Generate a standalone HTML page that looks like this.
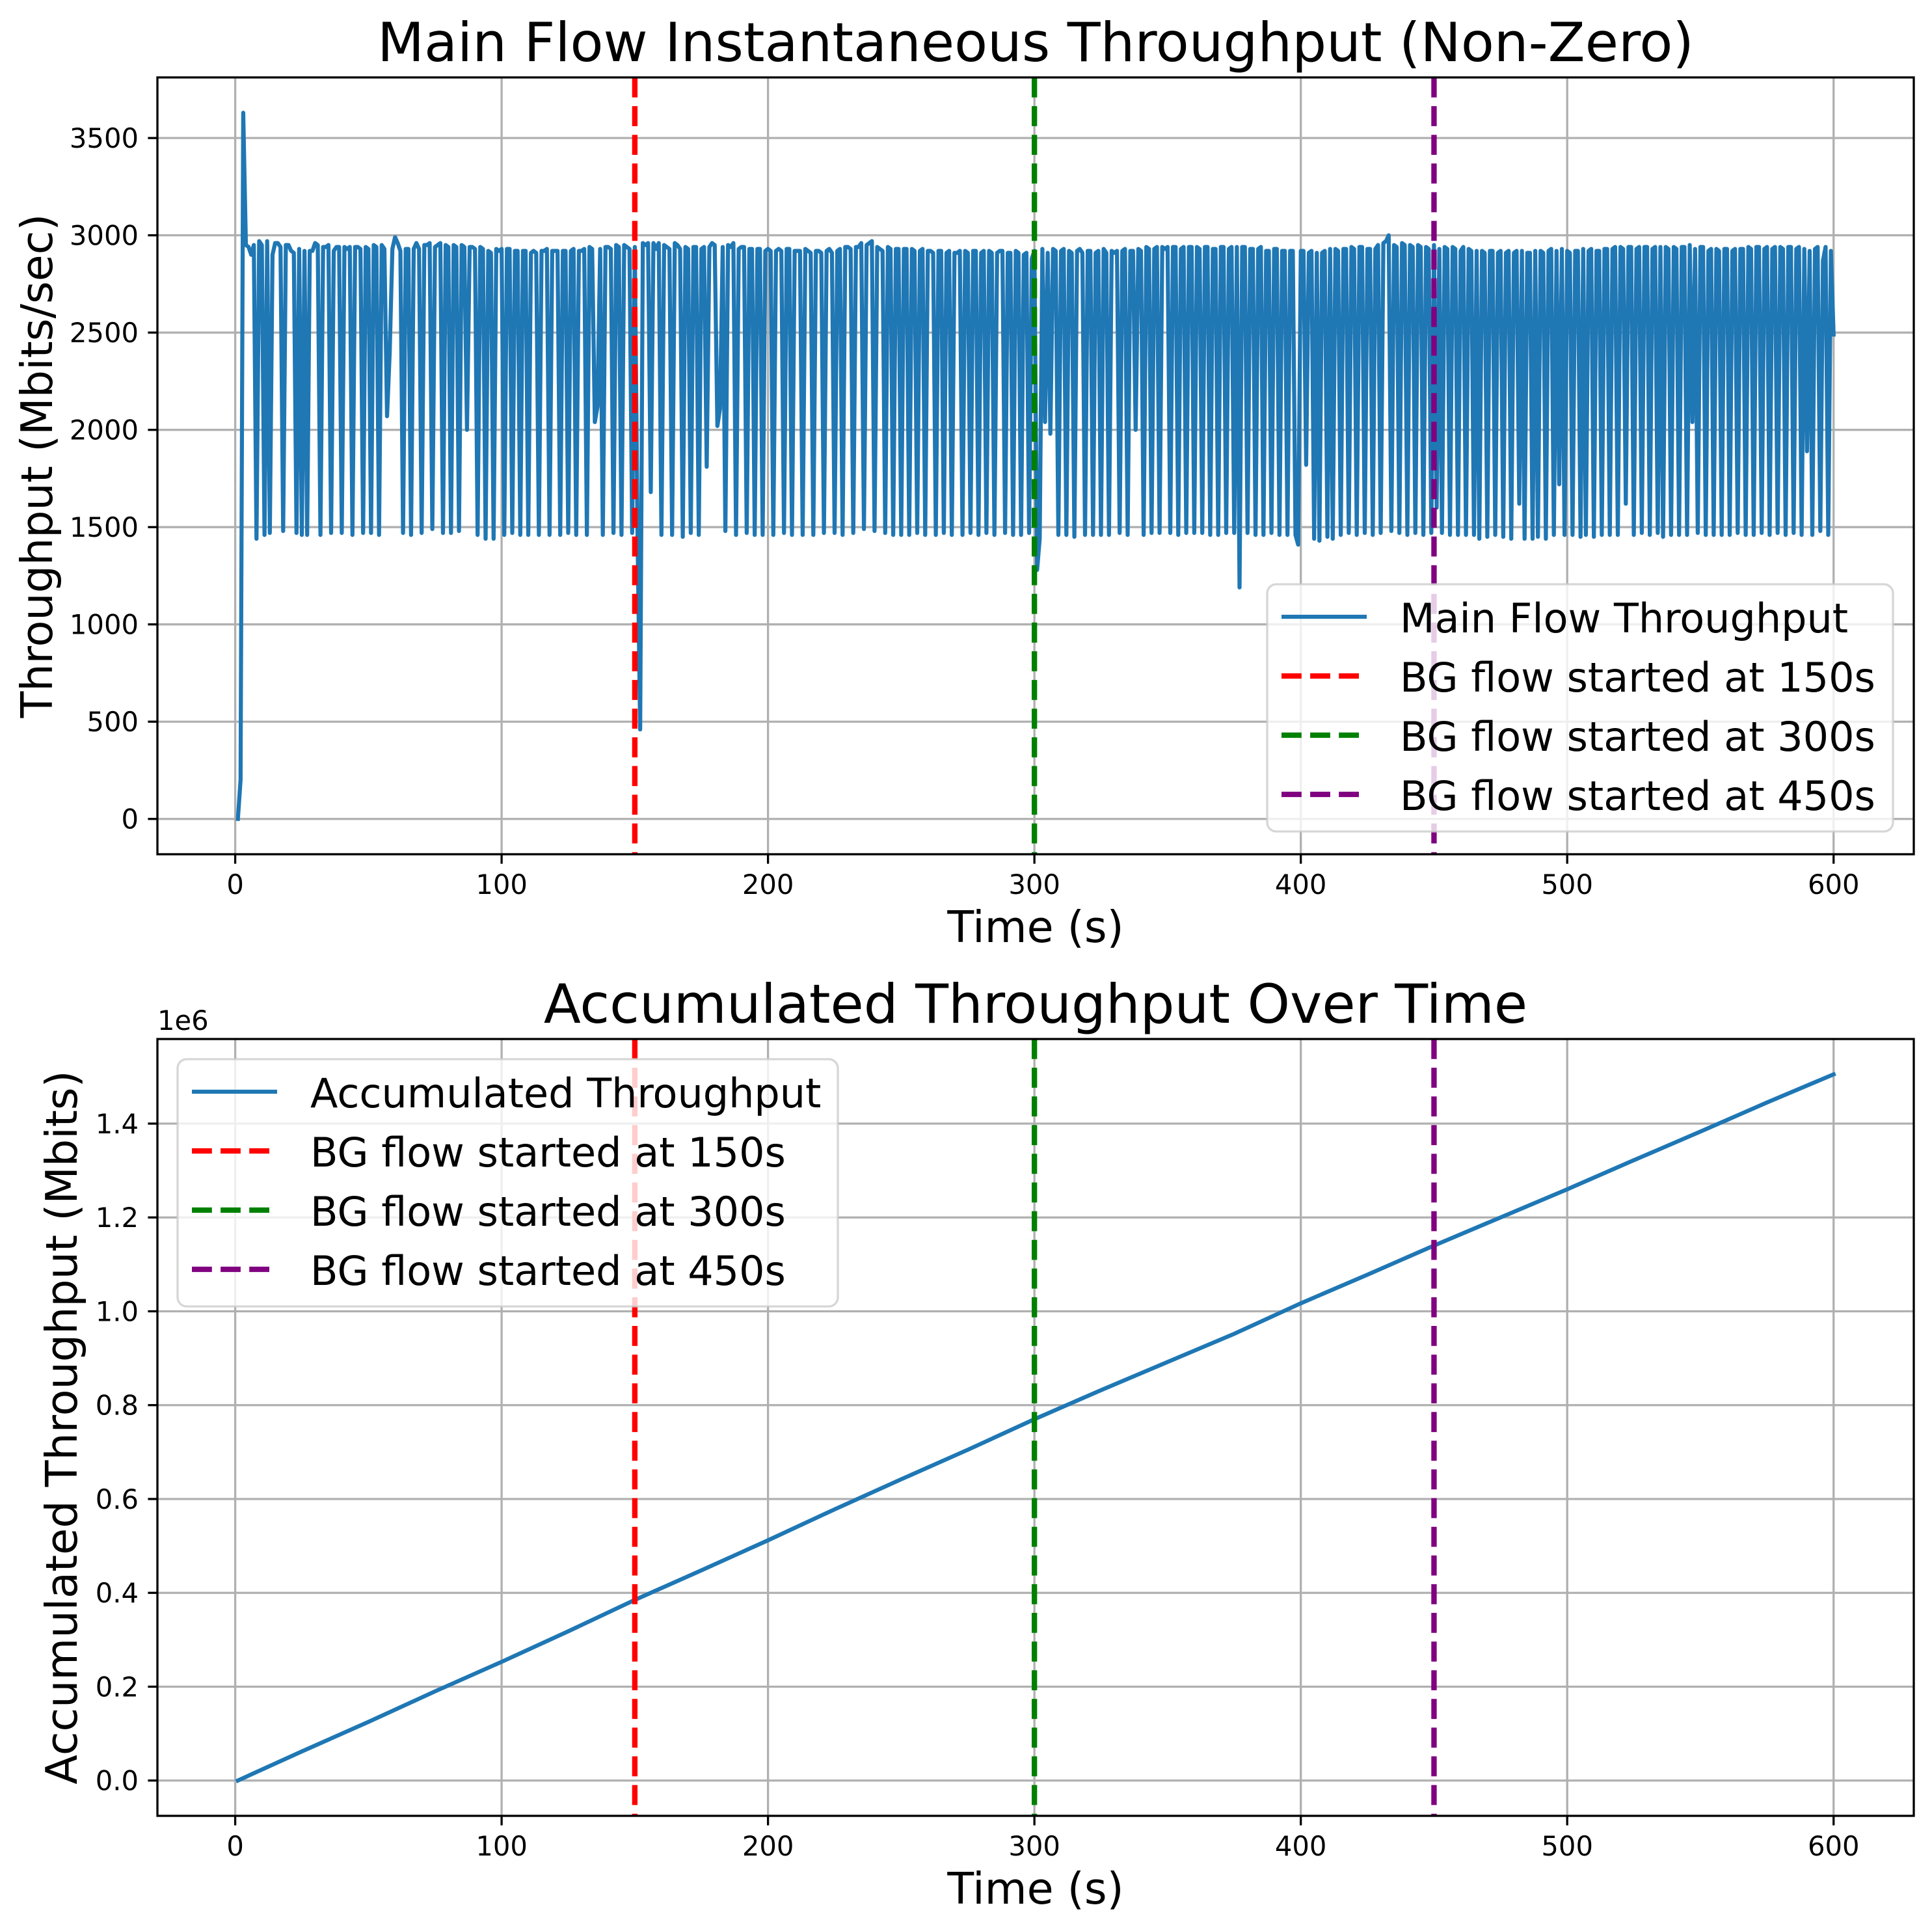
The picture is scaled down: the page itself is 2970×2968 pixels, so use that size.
<!DOCTYPE html>
<html><head><meta charset="utf-8"><style>
html,body{margin:0;padding:0;background:#fff;}
svg{display:block;font-family:"DejaVu Sans","Liberation Sans",sans-serif;}
</style></head><body>
<svg id="fig" width="2970" height="2968" viewBox="0 0 2970 2968" xmlns="http://www.w3.org/2000/svg">
<rect x="0" y="0" width="2970" height="2968" fill="#fff"/>
<g id="top"></g>
<g id="bot"></g>
</svg>
<script>
const thrValues = [
0,200,3630,2950,2940,2900,2950,1440,2970,2950,1460,2970,1470,2900,2960,2960,2940,1480,2950,2950,
2920,2910,1470,2930,1460,2920,1460,2920,2920,2960,2950,1460,2940,2940,2950,1470,2920,2940,2940,1470,
2940,2930,2940,1460,2940,2940,2930,1470,2940,2930,1470,2950,2940,1460,2950,2930,2070,2400,2930,2990,
2960,2920,1470,2930,2930,1460,2930,2960,2930,1470,2950,2950,2960,1490,2940,2950,2960,1470,2950,2940,
1470,2950,2940,1480,2950,2940,2000,2940,2940,2930,1460,2940,2930,1440,2920,2910,1440,2930,2920,2930,
1460,2930,2930,1470,2920,2920,1460,2920,2920,1460,2910,2920,2910,1460,2920,2920,2930,1460,2920,2920,
2920,1460,2920,2920,1470,2920,2930,1460,2920,2920,2930,1460,2940,2930,2040,2120,2930,1460,2940,2940,
2930,1470,2950,2940,1460,2950,2940,2930,1470,2940,1480,460,2960,2950,2960,1680,2960,2930,2960,1460,
2950,2940,2930,1460,2960,2950,2930,1450,2940,2930,1470,2940,2940,1460,2930,2940,1810,2940,2960,2950,
2020,2110,2940,1480,2950,2940,2960,1460,2930,2940,2940,1470,2930,2930,1460,2930,2930,1460,2920,2930,
2920,1460,2920,2930,2920,1470,2930,2930,1460,2920,2920,2920,1460,2930,2920,2910,1460,2920,2920,2910,
1470,2920,2930,2910,1470,2920,2930,1460,2940,2940,2930,1470,2940,2940,2960,1490,2950,2960,2970,1480,
2940,2930,2920,1470,2940,2930,1460,2930,2930,1460,2930,2930,1460,2930,2920,1470,2920,2930,1460,2920,
2920,2910,1460,2920,2920,1470,2910,2920,1460,2910,2910,2920,1460,2920,2910,1470,2920,2920,1460,2910,
2920,1470,2920,2910,1460,2910,2920,2920,1470,2910,2910,1460,2920,2910,1460,2900,2910,1470,2880,2920,
1280,1440,2930,2040,2910,1980,2930,2920,1460,2920,2930,1460,2920,2910,1450,2920,2930,2910,1460,2920,
2920,1460,2910,2920,1460,2930,2910,1460,2920,2910,2920,1470,2920,2930,1460,2920,2920,2000,2930,2920,
1460,2940,2930,1470,2930,2940,1470,2940,2930,2940,1470,2940,2940,1460,2930,2940,1470,2940,2940,1470,
2940,2930,1470,2940,2940,1460,2930,2930,1460,2940,2940,1470,2930,2940,1470,2940,1190,2940,2940,1470,
2930,2930,1460,2930,2940,1460,2920,2920,1470,2930,2930,1460,2920,2920,1460,2920,2920,1460,1410,2920,
2920,1820,2910,2920,1440,2910,1430,2910,2920,1450,2930,1440,2930,2920,1460,2930,2930,1470,2940,2930,
1460,2940,2940,1470,2930,2930,1460,2930,2950,1470,2960,2970,3000,1480,2950,2940,1470,2960,2950,1460,
2950,2940,1470,2950,2940,1460,2940,2930,1470,2950,1600,2930,1470,2940,2930,1460,2940,2930,1460,2920,
2940,1460,2930,2920,1460,2920,1440,2920,2910,1450,2920,2920,1460,2910,2920,1450,2910,2920,1440,2910,
2920,1620,2920,1440,2910,2910,1440,2920,1450,2920,2910,1440,2920,2930,1460,2920,1720,2930,1460,2920,
2910,1460,2920,2920,1450,2930,1460,2920,2930,1450,2920,2920,1460,2930,2930,1460,2930,2940,1460,2940,
2930,1620,2940,2940,1460,2930,2940,1470,2940,2940,1460,2930,2940,1470,2940,1450,2940,2930,1460,2940,
2930,1460,2940,2940,1460,2950,2040,2930,1470,2940,2940,1460,2920,2930,1460,2930,2920,1460,2930,2930,
1460,2920,2930,1470,2930,2930,1460,2940,2930,1460,2940,2940,1470,2930,2940,1460,2930,2940,1470,2940,
2930,1460,2940,2940,1470,2930,2940,1460,2930,1890,2920,1460,2930,2940,1480,2870,2940,1460,2920,2490];
const thrStartTime = 1;
const accTimes = [1,25,50,75,100,125,150,175,200,225,250,275,300,325,350,375,400,425,450,475,500,525,550,575,600];
const accValues = [0,0.062,0.125,0.19,0.253,0.318,0.385,0.448,0.512,0.578,0.642,0.705,0.77,0.832,0.892,0.952,1.017,1.078,1.14,1.2,1.26,1.322,1.383,1.445,1.505];
const bgTimes = [150,300,450];
const bgColors = ['#ff0000','#008000','#800080'];
const bgLabels = ['BG flow started at 150s','BG flow started at 300s','BG flow started at 450s'];
const xTicks = [0,100,200,300,400,500,600];
const topYTicks = [0,500,1000,1500,2000,2500,3000,3500];
const botYTicks = [0,0.2,0.4,0.6,0.8,1.0,1.2,1.4];
const botYTickLabels = ['0.0','0.2','0.4','0.6','0.8','1.0','1.2','1.4'];

const NS='http://www.w3.org/2000/svg';
function mk(parent,tag,attrs,text){const e=document.createElementNS(NS,tag);for(const k in attrs)e.setAttribute(k,attrs[k]);if(text!==undefined)e.textContent=text;parent.appendChild(e);return e;}

function drawAxes(g, cfg){
  const L=242,R=2942,T=cfg.top,B=cfg.bottom;
  const XMIN=-29.2, XMAX=630.1;
  const xs=v=>L+(v-XMIN)/(XMAX-XMIN)*(R-L);
  const ys=v=>B-(v-cfg.ymin)/(cfg.ymax-cfg.ymin)*(B-T);
  xTicks.forEach(t=>{const l=mk(g,'line',{x1:xs(t),x2:xs(t),y1:T,y2:B,stroke:'#b0b0b0','stroke-width':3.3});
    
    });
  cfg.yticks.forEach(t=>{const l=mk(g,'line',{x1:L,x2:R,y1:ys(t),y2:ys(t),stroke:'#b0b0b0','stroke-width':3.3});
    
    });
  let d='';cfg.xs.forEach((x,i)=>{d+=(i?'L':'M')+xs(x).toFixed(1)+' '+ys(cfg.ys[i]).toFixed(1);});
  const s=mk(g,'path',{d:d,fill:'none',stroke:'#1f77b4','stroke-width':6.25,'stroke-linejoin':'round','stroke-linecap':'square'});
  
  
  bgTimes.forEach((t,i)=>{const l=mk(g,'line',{x1:xs(t),x2:xs(t),y1:T,y2:B,stroke:bgColors[i],'stroke-width':8.33,'stroke-dasharray':'30.8 13.3'});
    
    });
  const f=mk(g,'rect',{x:L,y:T,width:R-L,height:B-T,fill:'none',stroke:'#000','stroke-width':3.3});
  
  
  xTicks.forEach(t=>{mk(g,'line',{x1:xs(t),x2:xs(t),y1:B,y2:B+14.6,stroke:'#000','stroke-width':3.3});
    const tx=mk(g,'text',{x:xs(t),y:B+61,'font-size':41.7,'text-anchor':'middle'},String(t));
    
    });
  cfg.yticks.forEach((t,i)=>{mk(g,'line',{x1:L-14.6,x2:L,y1:ys(t),y2:ys(t),stroke:'#000','stroke-width':3.3});
    const tx=mk(g,'text',{x:L-29,y:ys(t)+15,'font-size':41.7,'text-anchor':'end'},cfg.ylabels[i]);
    
    });
  const xl=mk(g,'text',{x:(L+R)/2,y:B+135,'font-size':66.7,'text-anchor':'middle'},'Time (s)');
  
  
  const cy=(T+B)/2;
  const yl=mk(g,'text',{x:cfg.ylabelX,y:cy,'font-size':66.7,'text-anchor':'middle',transform:'rotate(-90 '+cfg.ylabelX+' '+cy+')'},cfg.ylabel);
  
  
  const ti=mk(g,'text',{x:(L+R)/2,y:T-25,'font-size':83.3,'text-anchor':'middle'},cfg.title);
  
  
  const lg=mk(g,'g',{});
  
  
  const lx=cfg.legX, ly=cfg.legY;
  mk(lg,'rect',{x:lx,y:ly,width:cfg.legW,height:380,rx:14,fill:'#fff','fill-opacity':0.8,stroke:'#cccccc','stroke-opacity':0.8,'stroke-width':3.3});
  const labels=[cfg.seriesLabel].concat(bgLabels);
  labels.forEach((lab,i)=>{const yy=ly+50+i*91;
    const e=mk(lg,'g',{});
    
    
    if(i===0) mk(e,'line',{x1:lx+22,x2:lx+153,y1:yy,y2:yy,stroke:'#1f77b4','stroke-width':6.25});
    else mk(e,'line',{x1:lx+22,x2:lx+153,y1:yy,y2:yy,stroke:bgColors[i-1],'stroke-width':8.33,'stroke-dasharray':'30.8 13.3'});
    mk(e,'text',{x:lx+204,y:yy+24,'font-size':62},lab);
  });
  return {xs,ys};
}

const thrTimes = thrValues.map((v,i)=>thrStartTime+i);
drawAxes(document.getElementById('top'),{
  top:119,bottom:1313,ymin:-181.5,ymax:3811.5,yticks:topYTicks,ylabels:topYTicks.map(String),
  xs:thrTimes,ys:thrValues,seriesName:'main-flow-throughput-line',seriesLabel:'Main Flow Throughput',
  ylabel:'Throughput (Mbits/sec)',ylabelX:80,title:'Main Flow Instantaneous Throughput (Non-Zero)',
  legX:1948,legY:898,legW:962
});
drawAxes(document.getElementById('bot'),{
  top:1597,bottom:2791,ymin:-0.07525,ymax:1.58025,yticks:botYTicks,ylabels:botYTickLabels,
  xs:accTimes,ys:accValues,seriesName:'accumulated-throughput-line',seriesLabel:'Accumulated Throughput',
  ylabel:'Accumulated Throughput (Mbits)',ylabelX:118,title:'Accumulated Throughput Over Time',
  legX:273,legY:1628,legW:1015
});
const oe=document.createElementNS(NS,'text');
oe.setAttribute('x',242);oe.setAttribute('y',1583);oe.setAttribute('font-size',41.7);
oe.textContent='1e6';


document.getElementById('bot').appendChild(oe);
</script>
</body></html>
